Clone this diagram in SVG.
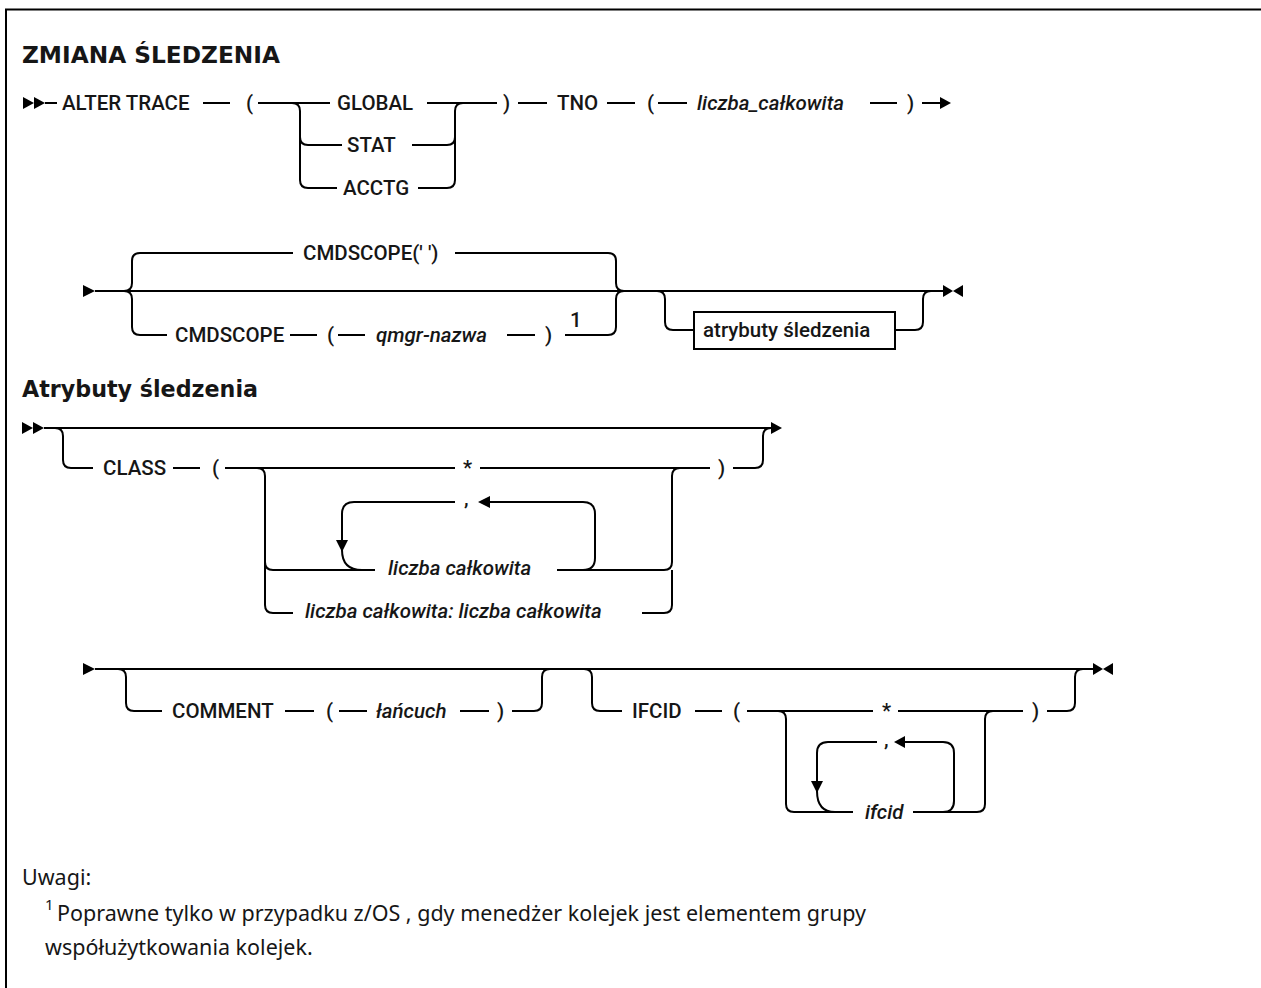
<svg xmlns="http://www.w3.org/2000/svg" width="1261" height="988" viewBox="0 0 1261 988">
  <style>
    .ln { fill: none; stroke: #000; stroke-width: 2; }
    .ah { fill: #000; stroke: none; }
    .t { font-family: Roboto, "Liberation Sans", sans-serif; font-size: 20.5px; font-weight: 500; fill: #161616; }
    .i { font-style: italic; }
    .h { font-family: "DejaVu Sans", "Liberation Sans", sans-serif; font-weight: bold; font-size: 23px; fill: #161616; }
    .n { font-family: "Noto Sans", "Liberation Sans", sans-serif; font-size: 21.5px; fill: #161616; }
    .sup { font-family: "Noto Sans", "Liberation Sans", sans-serif; font-size: 15px; fill: #161616; }
    .box { fill: #fff; stroke: #000; stroke-width: 2; }
  </style>

  <rect width="1261" height="988" fill="#fff"/>

  <!-- frame -->
  <path class="ln" d="M6,988 V9.5 H1261" stroke-width="2.5"/>

  <!-- headings -->
  <g id="title">
    <text class="h" x="22" y="63" textLength="258" lengthAdjust="spacingAndGlyphs">ZMIANA ŚLEDZENIA</text>
  </g>
  <g id="attr-heading">
    <text class="h" x="22" y="397" textLength="236" lengthAdjust="spacingAndGlyphs">Atrybuty śledzenia</text>
  </g>

  <!-- connectors -->
  <g id="connectors">
    <!-- line 1 -->
    <polygon class="ah" points="23,97 34,103 23,109"/>
    <polygon class="ah" points="34,97 45,103 34,109"/>
    <path class="ln" d="M45,103 H57 M203,103 H230 M258,103 H330 M427,103 H497"/>
    <path class="ln" d="M292,103 Q300,103 300,111 V180 Q300,188 308,188 H337 M300,137 Q300,145 308,145 H342"/>
    <path class="ln" d="M418,188 H447 Q455,188 455,180 V111 Q455,103 463,103 M412,145 H447 Q455,145 455,137"/>
    <path class="ln" d="M518,103 H547 M607,103 H635 M658,103 H687 M870,103 H897 M922,103 H940"/>
    <polygon class="ah" points="940,97 951,103 940,109"/>

    <!-- line 2 -->
    <polygon class="ah" points="83,285 95,291 83,297"/>
    <path class="ln" d="M95,291 H943"/>
    <path class="ln" d="M124,291 Q132,291 132,283 V261 Q132,253 140,253 H293 M124,291 Q132,291 132,299 V327 Q132,335 140,335 H167"/>
    <path class="ln" d="M455,253 H608 Q616,253 616,261 V283 Q616,291 624,291 M565,335 H608 Q616,335 616,327 V299 Q616,291 624,291"/>
    <path class="ln" d="M290,335 H317 M338,335 H365 M507,335 H535"/>
    <path class="ln" d="M657,291 Q665,291 665,299 V322 Q665,330 673,330 H694 M895,330 H915 Q923,330 923,322 V299 Q923,291 931,291"/>
    <polygon class="ah" points="943,285 953,291 943,297"/>
    <polygon class="ah" points="963,285 953,291 963,297"/>

    <!-- line 3 -->
    <polygon class="ah" points="22,422 33,428 22,434"/>
    <polygon class="ah" points="33,422 44,428 33,434"/>
    <path class="ln" d="M44,428 H771"/>
    <polygon class="ah" points="771,422 782,428 771,434"/>
    <path class="ln" d="M55,428 Q63,428 63,436 V460 Q63,468 71,468 H93 M173,468 H200 M225,468 H455 M480,468 H710"/>
    <path class="ln" d="M257,468 Q265,468 265,476 V605 Q265,613 273,613 H293 M265,562 Q265,570 273,570 H375"/>
    <path class="ln" d="M557,570 H664 Q672,570 672,562 V476 Q672,468 680,468 M642,613 H664 Q672,613 672,605 V570"/>
    <path class="ln" d="M583,570 Q595,570 595,558 V514 Q595,502 583,502 H490"/>
    <polygon class="ah" points="490,496 478,502 490,508"/>
    <path class="ln" d="M455,502 H354 Q342,502 342,514 V540"/>
    <polygon class="ah" points="336,540 342,552 348,540"/>
    <path class="ln" d="M342,550 Q342,570 362,570"/>
    <path class="ln" d="M733,468 H755 Q763,468 763,460 V436 Q763,428 771,428"/>

    <!-- line 4 -->
    <polygon class="ah" points="83,663 95,669 83,675"/>
    <path class="ln" d="M95,669 H1093"/>
    <path class="ln" d="M118,669 Q126,669 126,677 V703 Q126,711 134,711 H162 M285,711 H314 M339,711 H367 M460,711 H489 M512,711 H534 Q542,711 542,703 V677 Q542,669 550,669"/>
    <path class="ln" d="M584,669 Q592,669 592,677 V703 Q592,711 600,711 H622 M695,711 H722 M747,711 H873 M898,711 H1023 M1047,711 H1067 Q1075,711 1075,703 V677 Q1075,669 1083,669"/>
    <path class="ln" d="M778,711 Q786,711 786,719 V804 Q786,812 794,812 H853 M913,812 H977 Q985,812 985,804 V719 Q985,711 993,711"/>
    <path class="ln" d="M943,812 Q954,812 954,801 V753 Q954,742 943,742 H905"/>
    <polygon class="ah" points="905,736 894,742 905,748"/>
    <path class="ln" d="M877,742 H828 Q817,742 817,753 V781"/>
    <polygon class="ah" points="811,781 817,793 823,781"/>
    <path class="ln" d="M817,791 Q817,812 835,812"/>
    <polygon class="ah" points="1093,663 1103,669 1093,675"/>
    <polygon class="ah" points="1113,663 1103,669 1113,675"/>
  </g>

  <!-- line 1 nodes -->
  <g id="alter-trace"><text class="t" x="62" y="110">ALTER TRACE</text></g>
  <g id="lp1"><text class="t" x="246" y="110">(</text></g>
  <g id="global"><text class="t" x="337" y="110">GLOBAL</text></g>
  <g id="stat"><text class="t" x="347" y="152">STAT</text></g>
  <g id="acctg"><text class="t" x="343" y="195">ACCTG</text></g>
  <g id="rp1"><text class="t" x="503" y="110">)</text></g>
  <g id="tno"><text class="t" x="557" y="110">TNO</text></g>
  <g id="lp2"><text class="t" x="647" y="110">(</text></g>
  <g id="tno-value"><text class="t i" x="697" y="110">liczba_całkowita</text></g>
  <g id="rp2"><text class="t" x="907" y="110">)</text></g>

  <!-- line 2 nodes -->
  <g id="cmdscope-default"><text class="t" x="303" y="260">CMDSCOPE(' ')</text></g>
  <g id="cmdscope"><text class="t" x="175" y="342">CMDSCOPE</text></g>
  <g id="lp3"><text class="t" x="327" y="342">(</text></g>
  <g id="qmgr-name"><text class="t i" x="376" y="342">qmgr-nazwa</text></g>
  <g id="rp3"><text class="t" x="545" y="342">)</text></g>
  <g id="note-ref"><text class="t" x="570" y="327" font-size="15" font-weight="bold">1</text></g>
  <g id="attr-ref">
    <rect class="box" x="694" y="312" width="201" height="37"/>
    <text class="t" x="703" y="337">atrybuty śledzenia</text>
  </g>

  <!-- line 3 nodes -->
  <g id="class"><text class="t" x="103" y="475">CLASS</text></g>
  <g id="lp4"><text class="t" x="212" y="475">(</text></g>
  <g id="class-all"><text class="t" x="463" y="475">*</text></g>
  <g id="class-sep"><text class="t" x="464" y="505">,</text></g>
  <g id="class-int"><text class="t i" x="388" y="575">liczba całkowita</text></g>
  <g id="class-range"><text class="t i" x="305" y="618">liczba całkowita: liczba całkowita</text></g>
  <g id="rp4"><text class="t" x="718" y="475">)</text></g>

  <!-- line 4 nodes -->
  <g id="comment"><text class="t" x="172" y="718">COMMENT</text></g>
  <g id="lp5"><text class="t" x="326" y="718">(</text></g>
  <g id="comment-text"><text class="t i" x="376" y="718">łańcuch</text></g>
  <g id="rp5"><text class="t" x="497" y="718">)</text></g>
  <g id="ifcid"><text class="t" x="632" y="718">IFCID</text></g>
  <g id="lp6"><text class="t" x="733" y="718">(</text></g>
  <g id="ifcid-all"><text class="t" x="882" y="718">*</text></g>
  <g id="ifcid-sep"><text class="t" x="884" y="746">,</text></g>
  <g id="ifcid-value"><text class="t i" x="865" y="819">ifcid</text></g>
  <g id="rp6"><text class="t" x="1032" y="718">)</text></g>

  <!-- notes -->
  <g id="notes">
    <text class="n" x="22" y="885">Uwagi:</text>
    <text class="sup" x="45" y="910">1</text>
    <text class="n" x="57" y="921">Poprawne tylko w przypadku z/OS , gdy menedżer kolejek jest elementem grupy</text>
    <text class="n" x="45" y="955">współużytkowania kolejek.</text>
  </g>
</svg>
